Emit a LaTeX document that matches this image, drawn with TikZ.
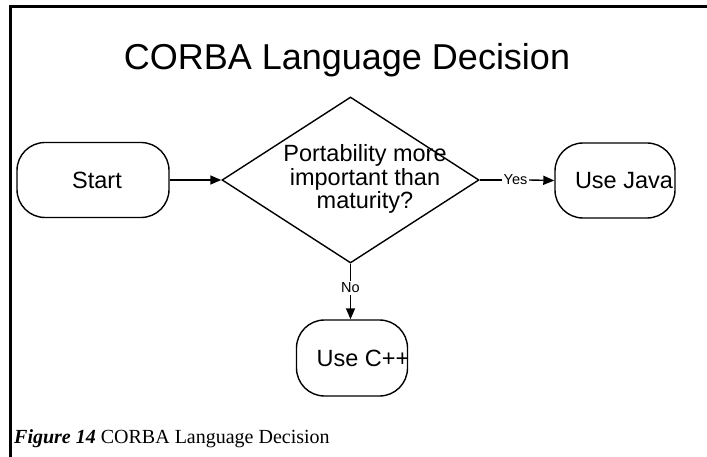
\documentclass[tikz,border=0pt]{standalone}
\usepackage{fontspec}
\setmainfont{Liberation Serif}
\setsansfont{Liberation Sans}
\usetikzlibrary{shapes.geometric,arrows.meta}
\begin{document}
\begin{tikzpicture}[x=1pt,y=-1pt,
  shapefont/.style={font=\sffamily\fontsize{23.5}{23.5}\selectfont},
  term/.style={draw, line width=1.4pt, rounded corners=28pt, minimum height=75pt, inner sep=0pt},
  small/.style={font=\sffamily\fontsize{14.5}{15}\selectfont, inner sep=1.5pt, fill=white},
  line/.style={line width=1.4pt},
  arr/.style={line width=1.4pt, -{Triangle[length=11pt,width=9pt]}},
  frame/.style={line width=3pt}]
\useasboundingbox (0,0) rectangle (707,457);
\draw[frame] (10.5,457) -- (10.5,7) -- (707,7);
\node[font=\sffamily\fontsize{36}{40}\selectfont, anchor=base, inner sep=0pt] (title) at (347,70) {CORBA Language Decision};
\node[term, minimum width=152pt, label={[shapefont, xshift=4pt]center:Start}] (start) at (93,180) {};
\node[draw, diamond, line width=1.4pt, minimum width=257pt, minimum height=166pt, inner sep=0pt] (dec) at (350.5,180) {};
\node[shapefont, align=center, inner sep=0pt] (dect) at (365,179) {Portability more\\important than\\maturity?};
\node[term, minimum width=120pt, label={[shapefont, xshift=9pt]center:Use Java}] (java) at (615,180.5) {};
\node[term, minimum width=111pt, minimum height=76pt, label={[shapefont, xshift=11pt]center:Use C++}] (cpp) at (352,358) {};
\node[small] (yes) at (515.5,180) {Yes};
\node[small] (no) at (350.5,288) {No};
\draw[arr] (start.east) -- (dec.west);
\draw[line] (dec.east) -- (yes.west);
\draw[arr] (yes.east) -- (java.west);
\draw[line] (dec.south) -- (no.north);
\draw[arr] (no.south) -- (no.south |- cpp.north);
\node[anchor=base west, inner sep=0pt, font=\fontsize{20}{24}\selectfont] (cap) at (14,443) {\textbf{\textit{Figure 14}} CORBA Language Decision};
\end{tikzpicture}
\end{document}
